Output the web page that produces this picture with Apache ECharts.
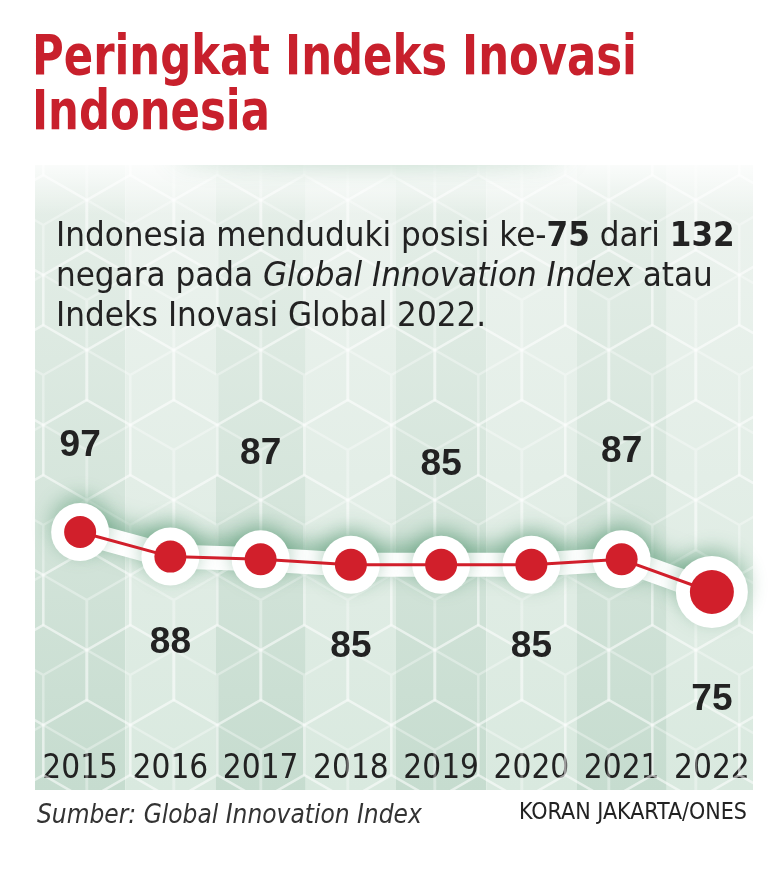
<!DOCTYPE html>
<html><head><meta charset="utf-8">
<script src="https://cdn.jsdelivr.net/npm/echarts@6/dist/echarts.min.js"></script>
<style>html,body{margin:0;padding:0;background:#fff}#c{width:782px;height:885px}</style>
</head><body><div id="c"></div>
<script>
const years = ['2015','2016','2017','2018','2019','2020','2021','2022'];
const ranks = [97, 88, 87, 85, 85, 85, 87, 75];

const RED = '#d11f2b';
const COND = '"DejaVu Sans Condensed", "DejaVu Sans", sans-serif';

// cube pattern tile
function makePattern(){
  const r = 50, w = Math.sqrt(3)*r, h = 3*r;
  const c = document.createElement('canvas');
  c.width = Math.round(w); c.height = Math.round(h);
  const g = c.getContext('2d');
  g.strokeStyle = 'rgba(255,255,255,0.33)';
  g.lineWidth = 2.5;
  function hex(cx, cy){
    const pts = [];
    for (let k=0;k<6;k++){ const a = Math.PI/180*(60*k-90); pts.push([cx+r*Math.cos(a), cy+r*Math.sin(a)]); }
    g.beginPath(); g.moveTo(pts[0][0],pts[0][1]);
    for (let k=1;k<6;k++) g.lineTo(pts[k][0],pts[k][1]);
    g.closePath(); g.stroke();
    g.beginPath();
    [1,3,5].forEach(k=>{ g.moveTo(cx,cy); g.lineTo(pts[k][0],pts[k][1]); });
    g.stroke();
  }
  const cs = [[0,0],[w,0],[w/2,1.5*r],[0,3*r],[w,3*r],[-w/2,1.5*r],[1.5*w,1.5*r]];
  cs.forEach(p=>hex(p[0],p[1]));
  return c;
}

const labelOffsets = [-86, 86, -106, 82, -100, 82, -108, 108];
const redData = ranks.map((v,i)=>({
  value: v,
  symbolSize: i === ranks.length-1 ? 44 : 32,
  label: { show: true, position: 'inside', offset: [0, labelOffsets[i]], formatter: String(v) }
}));
const whiteData = ranks.map((v,i)=>({ value: v, symbolSize: i === ranks.length-1 ? 72 : 58 }));

const chart = echarts.init(document.getElementById('c'), null, {renderer:'canvas'});
chart.setOption({
  backgroundColor: '#ffffff',
  animation: false,
  title: [
    { text: 'Indonesia menduduki posisi ke-{b|75} dari {b|132}\nnegara pada {i|Global Innovation Index} atau\nIndeks Inovasi Global 2022.',
      left: 51, top: 212,
      textStyle: { fontFamily: COND, fontSize: 34.6, fontWeight: 'normal', lineHeight: 40, color: '#222',
        rich: { b: { fontFamily: COND, fontSize: 34.6, fontWeight: 'bold', color: '#222', lineHeight: 40 },
                i: { fontFamily: COND, fontSize: 34.6, fontStyle: 'italic', fontWeight: 'normal', color: '#222', lineHeight: 40 } } } },
    { text: 'Sumber: Global Innovation Index', left: 32, top: 798,
      textStyle: { fontFamily: COND, fontSize: 26, fontStyle: 'italic', fontWeight: 'normal', color: '#333' } },
    { text: 'KORAN JAKARTA/ONES', right: 30, top: 797,
      textStyle: { fontFamily: COND, fontSize: 23, fontWeight: 'normal', color: '#222' } }
  ],
  graphic: [
    { type: 'rect', z: 1, silent: true, shape: { x: 35, y: 165, width: 722, height: 625 },
      style: { fill: { type: 'pattern', image: makePattern(), repeat: 'repeat' } } },
    { type: 'rect', z: 1, silent: true, shape: { x: 35, y: 165, width: 722, height: 50 },
      style: { fill: new echarts.graphic.LinearGradient(0,0,0,1,[{offset:0,color:'rgba(255,255,255,0.8)'},{offset:1,color:'rgba(255,255,255,0)'}]) } },
    { type: 'ellipse', z: 1, silent: true, shape: { cx: 370, cy: 155, rx: 200, ry: 7 },
      style: { fill: 'rgba(80,150,105,0.6)', shadowColor: 'rgba(70,145,100,0.9)', shadowBlur: 26 } },
    { type: 'rect', z: 2, silent: true, shape: { x: 0, y: 0, width: 782, height: 165 }, style: { fill: '#ffffff' } },
    { type: 'rect', z: 2, silent: true, shape: { x: 753, y: 165, width: 29, height: 625 }, style: { fill: '#ffffff' } },
    { type: 'text', z: 10, left: 32, top: 31, scaleX: 0.86, originX: 0,
      style: { text: 'Peringkat Indeks Inovasi\nIndonesia', fill: '#c8202c',
        font: 'bold 56px "DejaVu Sans Condensed", "DejaVu Sans", sans-serif', lineHeight: 55 } }
  ],
  grid: { left: 35, right: 25, top: 165, bottom: 95 },
  xAxis: {
    type: 'category', data: years, boundaryGap: true,
    axisLine: { show: false }, axisTick: { show: false },
    axisLabel: { inside: true, interval: 0, margin: 4, fontFamily: COND, fontSize: 33, color: '#222' },
    splitArea: { show: true, interval: 0, areaStyle: { color: [
      new echarts.graphic.LinearGradient(0,0,0,1,[{offset:0,color:'#e6efe9'},{offset:1,color:'#c6dccf'}]),
      new echarts.graphic.LinearGradient(0,0,0,1,[{offset:0,color:'#edf3ef'},{offset:1,color:'#d9e9df'}])
    ] } }
  },
  yAxis: { type: 'value', min: 2.4, max: 231.6, show: false, splitLine: { show: false } },
  series: [
    { type: 'line', z: 3, data: whiteData, symbol: 'circle', showSymbol: true,
      lineStyle: { color: '#ffffff', width: 24, shadowColor: 'rgba(50,130,85,0.5)', shadowBlur: 22, shadowOffsetY: -7 },
      itemStyle: { color: '#ffffff', shadowColor: 'rgba(50,130,85,0.4)', shadowBlur: 20, shadowOffsetY: -7 },
      label: { show: false }, silent: true },
    { type: 'line', z: 4, data: redData, symbol: 'circle',
      lineStyle: { color: RED, width: 3 },
      itemStyle: { color: RED },
      label: { fontFamily: '"Liberation Sans", Arial, sans-serif', fontWeight: 'bold', fontSize: 37, color: '#222' } }
  ]
});
</script></body></html>
